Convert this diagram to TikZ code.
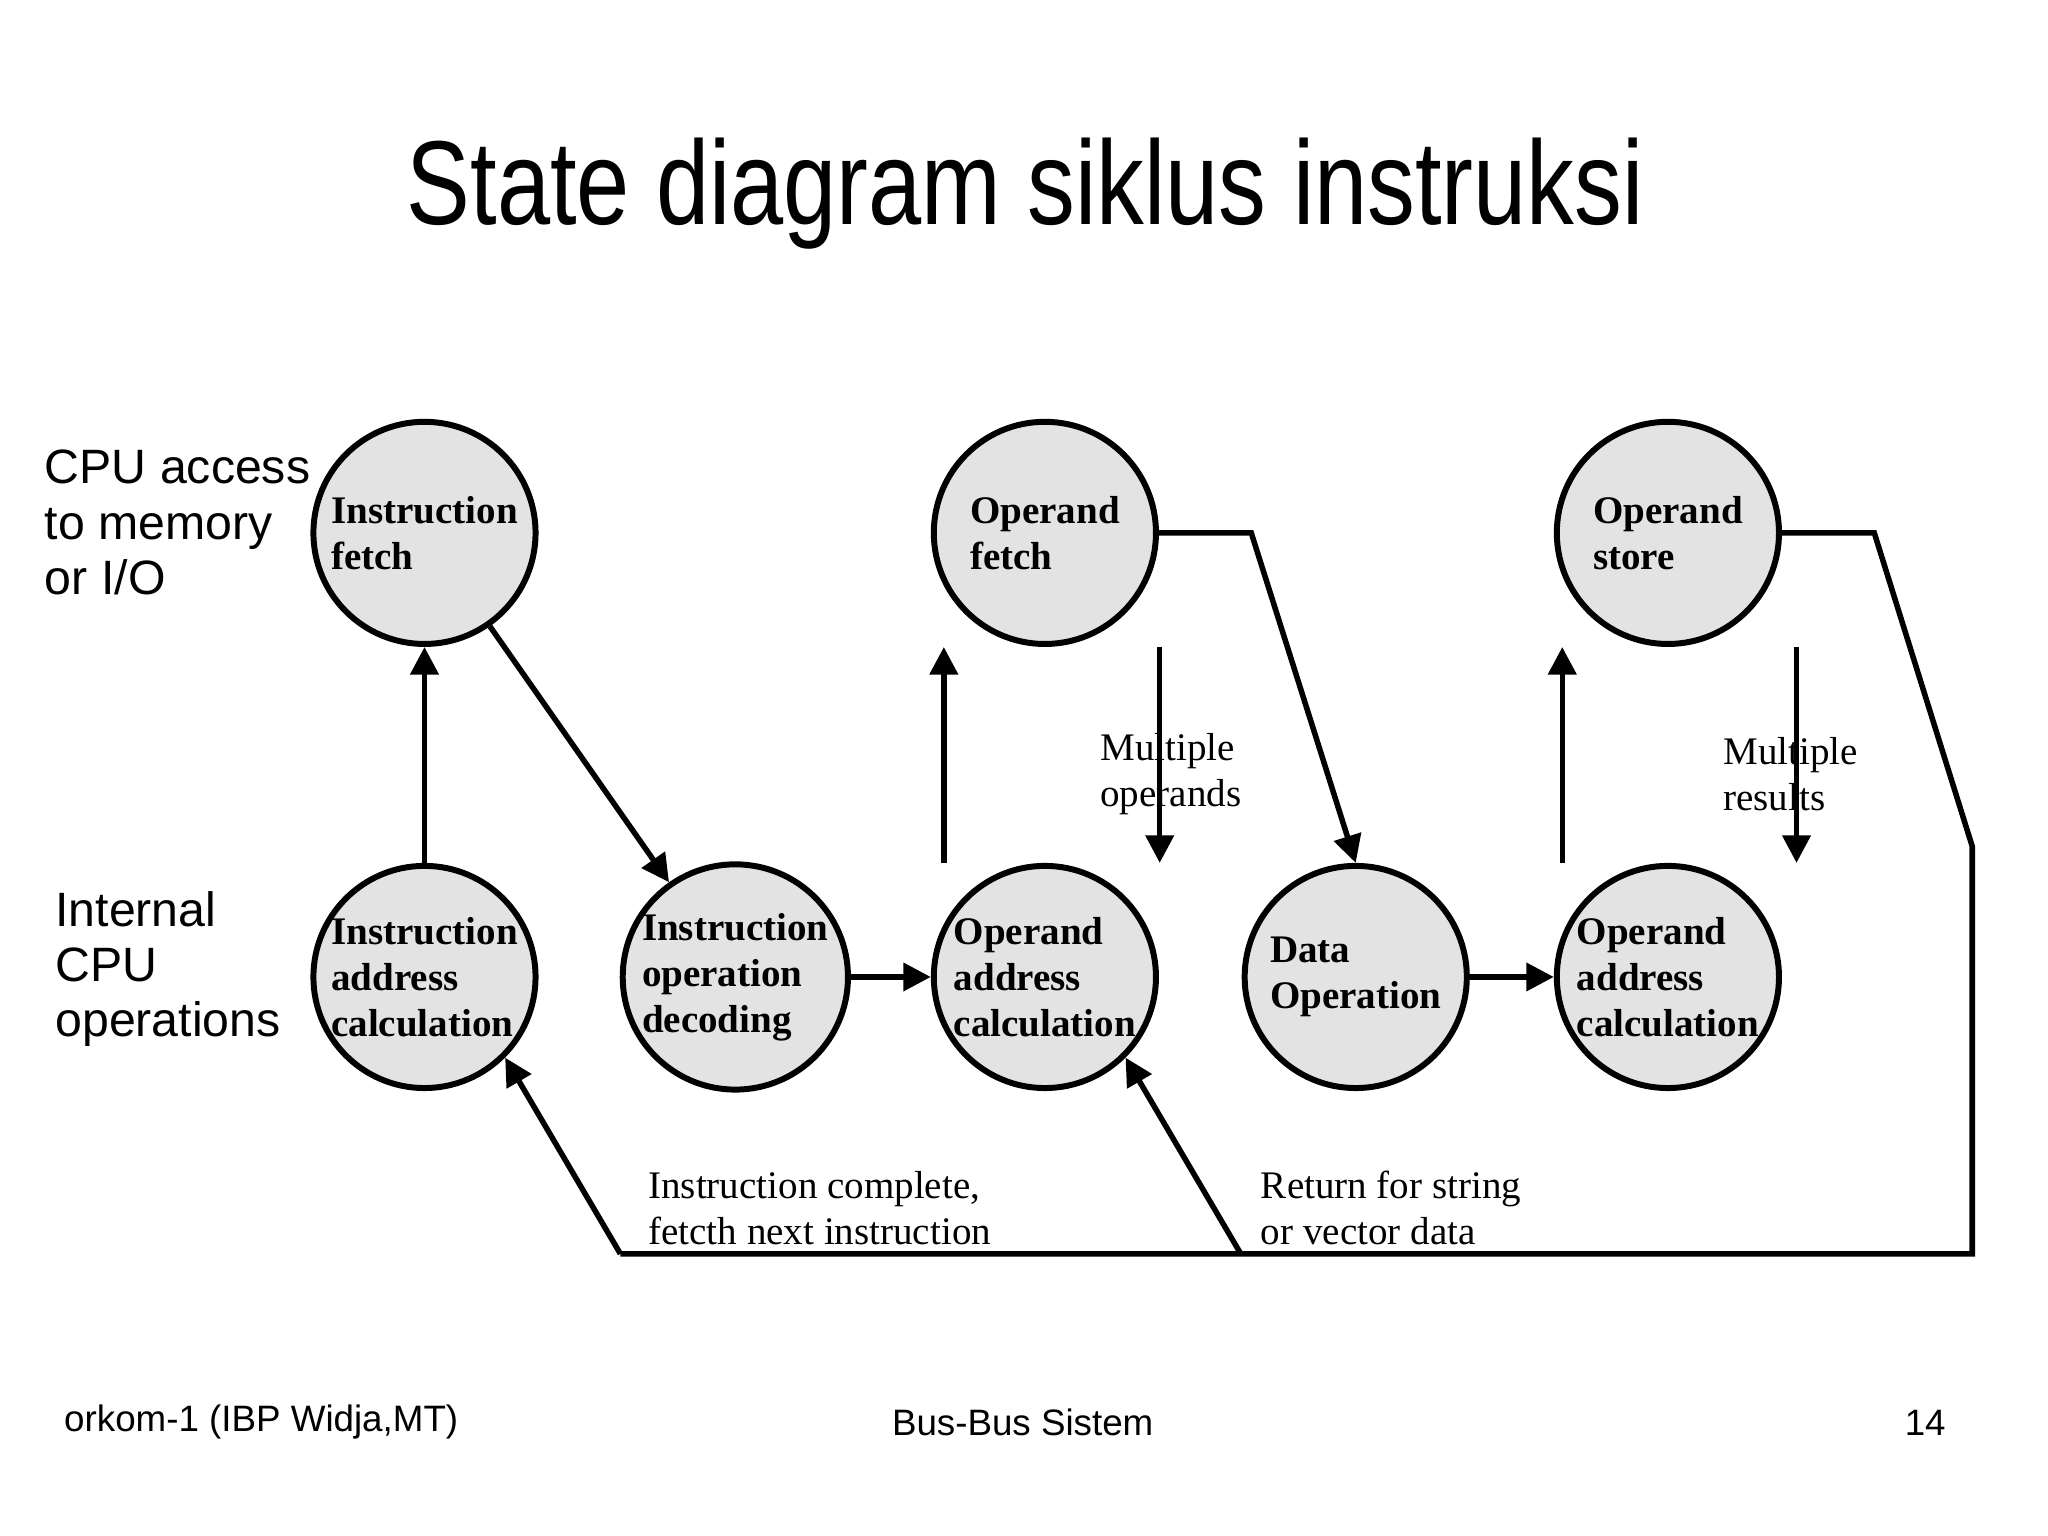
\documentclass[tikz,border=0pt]{standalone}
\usepackage{fontspec}
\setmainfont{Liberation Sans}
\newfontfamily\statefont{Liberation Serif}
\usetikzlibrary{arrows.meta,positioning}

\begin{document}
\begin{tikzpicture}[x=0.01cm,y=-0.01cm,
  ball/.style = {circle, draw, line width=1.3pt, fill=gray!22, minimum size=1.7cm,
                 align=left, inner sep=0, font=\statefont\bfseries\fontsize{8.5}{10}\selectfont},
  link/.style = {line width=1.2pt, -{Triangle[length=6pt,width=6pt]}},
  note/.style = {align=left, font=\statefont\fontsize{8.5}{10}\selectfont, anchor=west},
  side/.style = {align=left, font=\fontsize{10.5}{12}\selectfont, anchor=west}]

\useasboundingbox (0,0) rectangle (1568,1176);

\node[font=\fontsize{26}{30}\selectfont, xscale=0.8] (title) at (785,148) {State diagram siklus instruksi};

\node[side] (mem) at (22,400) {CPU access\\to memory\\or I/O};
\node[side] (cpu) at (30,742) {Internal\\CPU\\operations};

\node[ball] (if)   at (325,408) {Instruction\\fetch};
\node[ball] (of)   at (800,408) {Operand\\fetch};
\node[ball] (os)   at (1277,408) {Operand\\store};
\node[ball] (iac)  at (325,748) {Instruction\\address\\calculation};
\node[ball] (iod)  at (563,748) {Instruction\\operation\\decoding};
\node[ball] (oac)  at (800,748) {Operand\\address\\calculation};
\node[ball] (do)   at (1038,748) {Data\\Operation};
\node[ball] (oacb) at (1277,748) {Operand\\address\\calculation};

\coordinate (ofr) at (958,408);
\coordinate (osr) at (1435,408);
\coordinate (bend) at (1510,648);
\coordinate (lowr) at (1510,960);
\coordinate (lowm) at (950,960);
\coordinate (lowl) at (475,960);

\draw[link] (iac) -- (if);
\draw[link] (if.-55) -- (iod.125);
\draw[link] (iod) -- (oac);
\draw[link] ([xshift=-22]oac.north) -- ([xshift=-22]oac.north |- of.south);
\draw[link] ([xshift=25]of.south) -- ([xshift=25]of.south |- oac.north);
\draw[link] (of.east) -- (ofr) -- (do.north);
\draw[link] (do) -- (oacb);
\draw[link] ([xshift=-23]oacb.north) -- ([xshift=-23]oacb.north |- os.south);
\draw[link] ([xshift=28]os.south) -- ([xshift=28]os.south |- oacb.north);
\draw[line width=1.2pt] (os.east) -- (osr) -- (bend) -- (lowr) -- (lowl);
\draw[link] (lowl) -- (iac.-45);
\draw[link] (lowm) -- (oac.-45);

\node[note] (mops) at (830,593) {Multiple\\operands};
\node[note] (mres) at (1307,593) {Multiple\\results};
\node[note] (done) at (484,925) {Instruction complete,\\fetcth next instruction};
\node[note] (ret)  at (953,925) {Return for string\\or vector data};

\node[font=\fontsize{8}{10}\selectfont] (f1) at (200,1089) {orkom-1 (IBP Widja,MT)};
\node[font=\fontsize{8}{10}\selectfont] (f2) at (783,1089) {Bus-Bus Sistem};
\node[font=\fontsize{8}{10}\selectfont] (f3) at (1474,1089) {14};
\end{tikzpicture}
\end{document}
